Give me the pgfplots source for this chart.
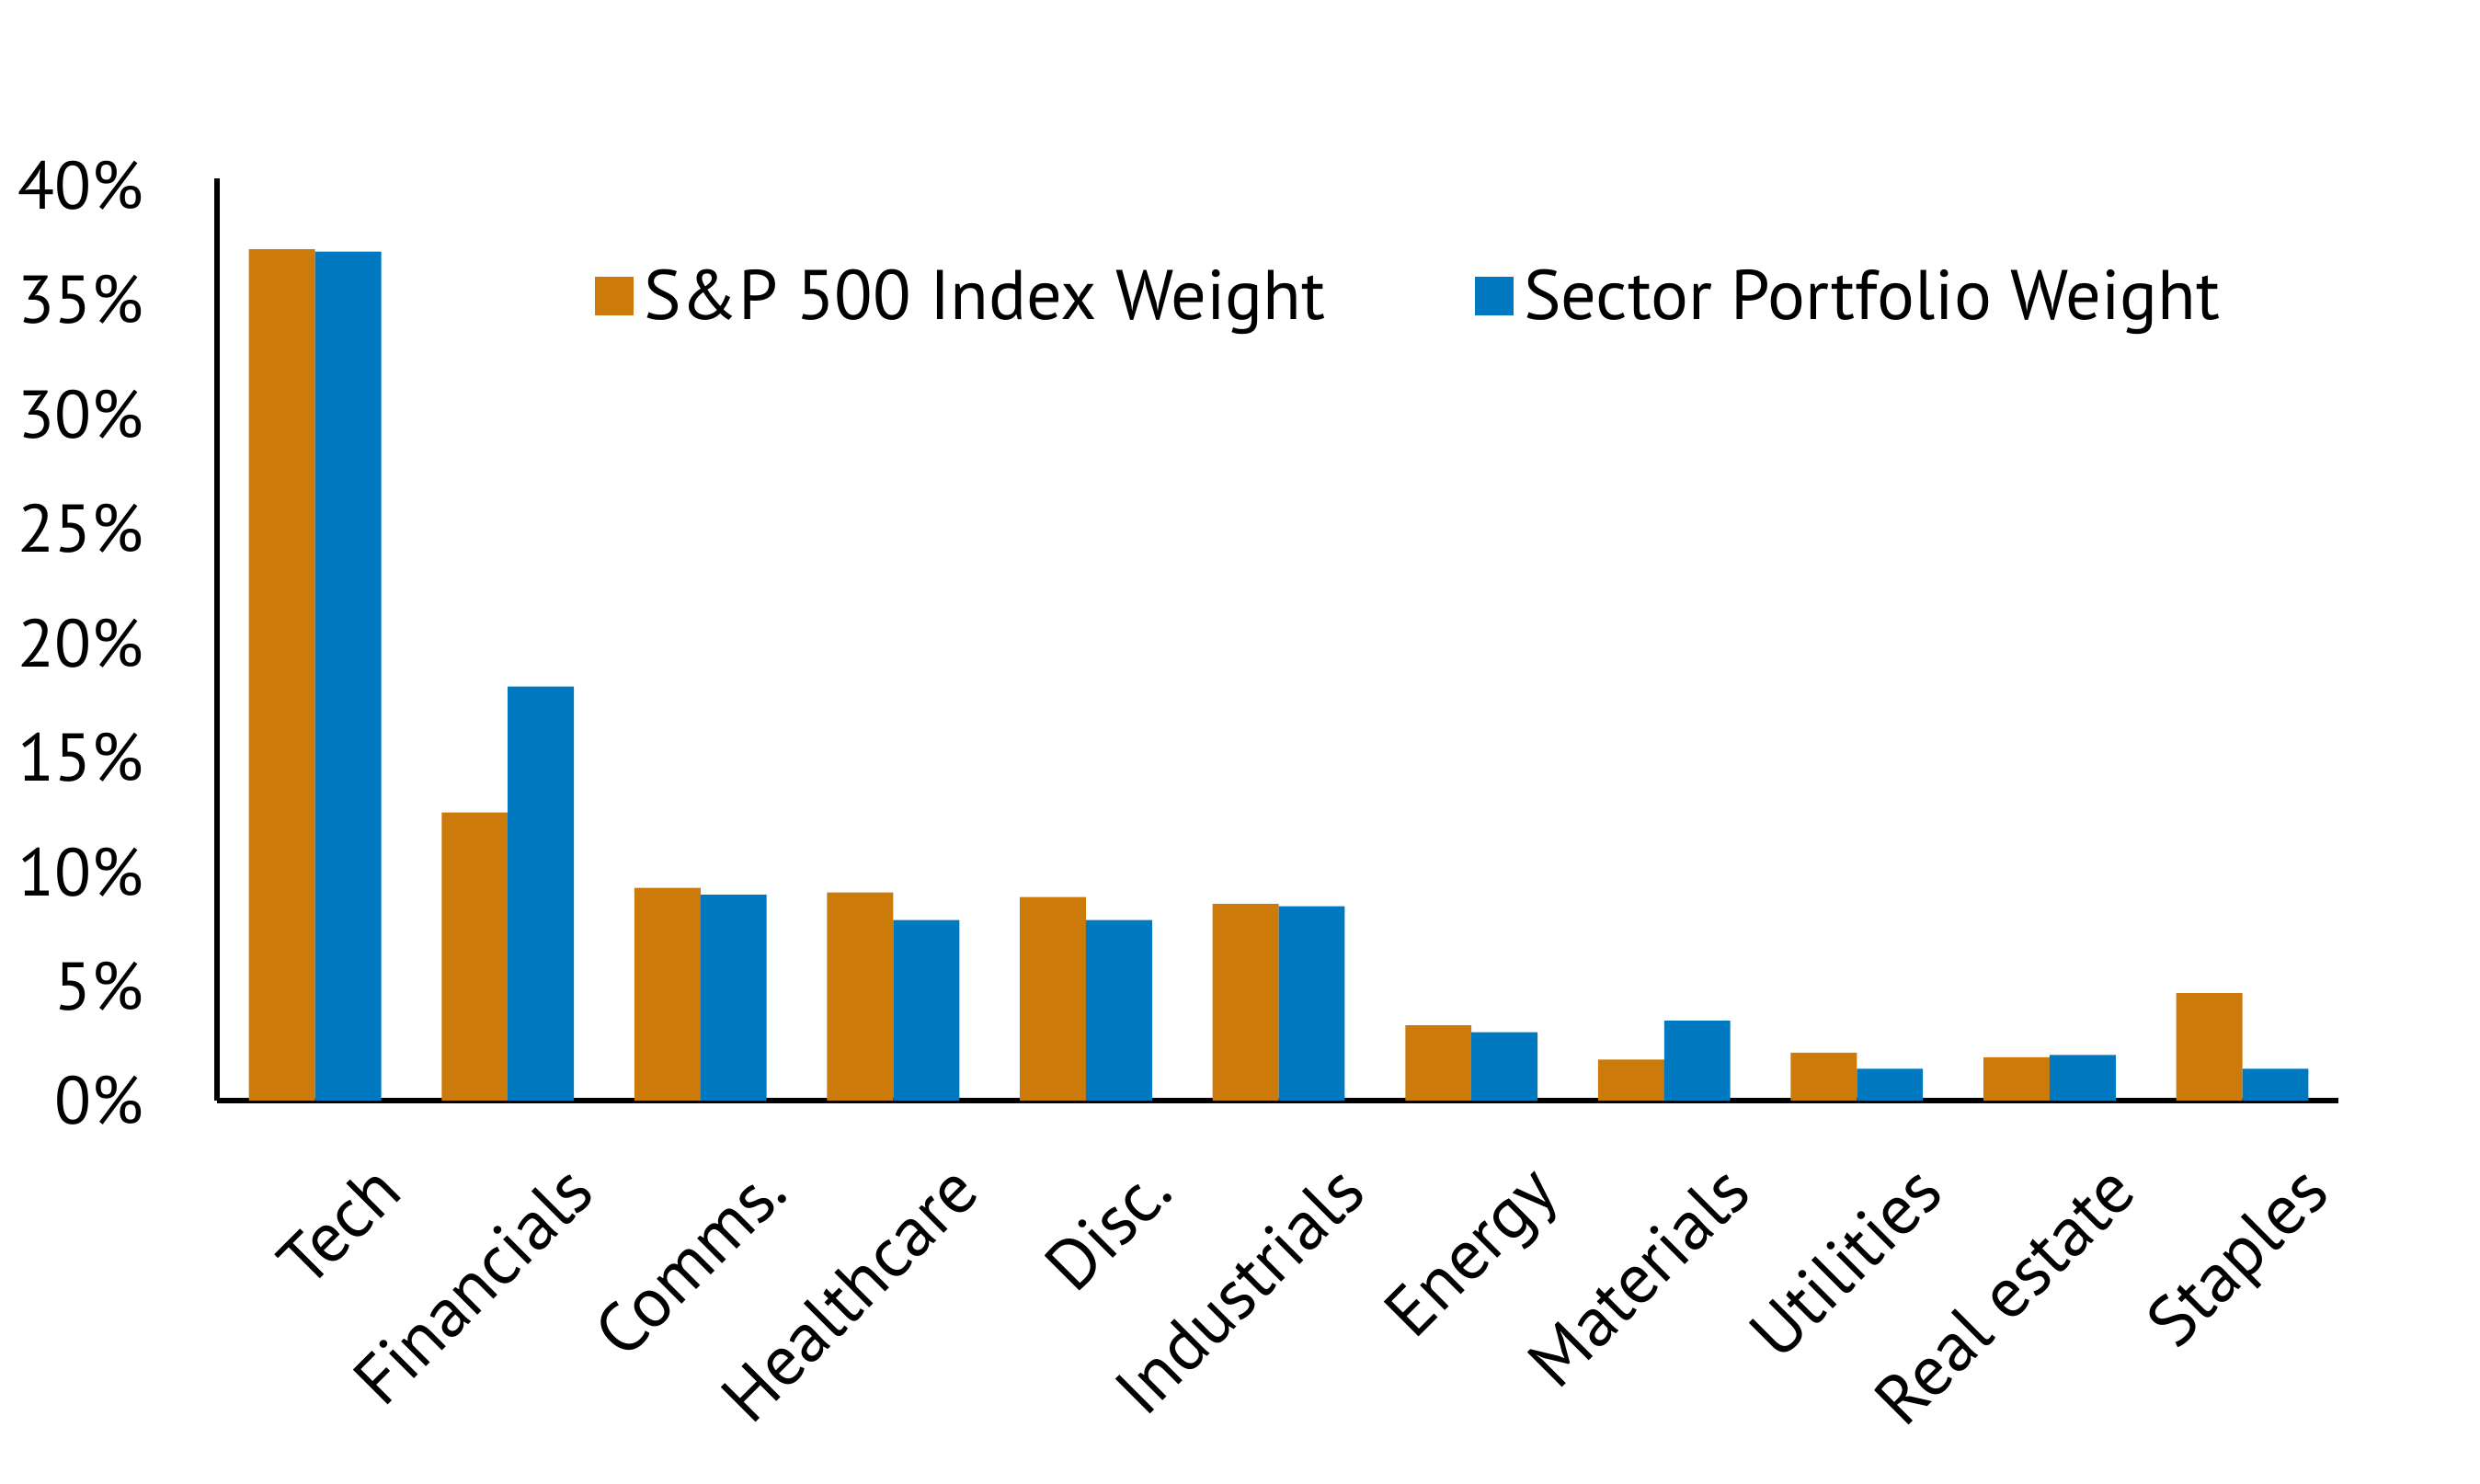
\documentclass[border=0pt]{standalone}
\usepackage{pgfplots}
\pgfplotsset{compat=1.18}
\usepackage{fontspec}
\setmainfont{PT Sans}
\definecolor{sp}{HTML}{CC7A0A}
\definecolor{sec}{HTML}{0079C1}
\begin{document}
\begin{tikzpicture}
\begin{axis}[
  at={(0,0)}, anchor=origin,
  scale only axis, width=13.8cm, height=6.0cm,
  xmin=-0.51, xmax=10.5, ymin=0, ymax=40.3,
  axis x line=bottom, axis y line=left,
  axis line style={-, black, line width=1pt},
  ybar=0pt, bar width=0.43cm,
  major tick length=0pt,
  ytick={0,5,...,40},
  yticklabel={\pgfmathprintnumber{\tick}\%},
  yticklabel style={font=\fontsize{12.5}{14}\selectfont, xshift=-0.35cm},
  /pgf/number format/assume math mode=true,
  xtick=data,
  xticklabels={Tech,Financials,Comms.,Healthcare,Disc.,Industrials,Energy,Materials,Utilities,Real estate,Staples},
  xticklabel style={font=\fontsize{13}{15}\selectfont, rotate=45, anchor=north east, yshift=-0.4cm, xshift=0.1cm},
  legend style={draw=none, fill=none, at={(0.17,0.87)}, anchor=west, legend columns=2,
    font=\fontsize{13}{15}\selectfont, /tikz/every even column/.append style={column sep=0.9cm}},
  legend image code/.code={\fill[#1] (0cm,-0.11cm) rectangle (0.25cm,0.14cm);},
]
\addplot[fill=sp, draw=none] coordinates {(0,37.2)(1,12.6)(2,9.3)(3,9.1)(4,8.9)(5,8.6)(6,3.3)(7,1.8)(8,2.1)(9,1.9)(10,4.7)};
\addplot[fill=sec, draw=none] coordinates {(0,37.1)(1,18.1)(2,9.0)(3,7.9)(4,7.9)(5,8.5)(6,3.0)(7,3.5)(8,1.4)(9,2.0)(10,1.4)};
\legend{S\&P 500 Index Weight, Sector Portfolio Weight}
\end{axis}
\useasboundingbox (-1.53,-2.49) rectangle (14.08,7.16);
\end{tikzpicture}
\end{document}
